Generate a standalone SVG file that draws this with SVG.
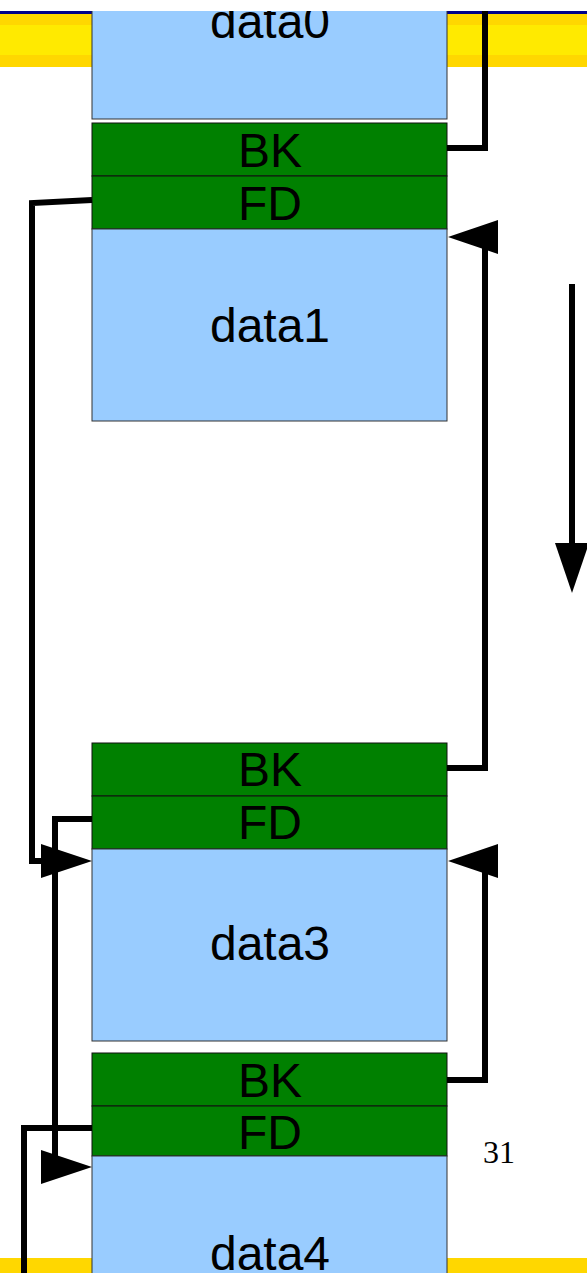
<svg xmlns="http://www.w3.org/2000/svg" width="587" height="1273" viewBox="0 0 587 1273">
  <style>
    .data { fill: #99CCFF; stroke: #333; stroke-width: 1; }
    .hdr { fill: #008000; stroke: #111; stroke-width: 1; }
    .lbl { font-family: "Liberation Sans", Arial, sans-serif; font-size: 48px; fill: #000; text-anchor: middle; }
    .wire { fill: none; stroke: #000; stroke-width: 6; stroke-linejoin: miter; }
    .head { fill: #000; }
  </style>
  <defs>
    <clipPath id="page">
      <rect x="0" y="11" width="587" height="1262"/>
    </clipPath>
  </defs>
  <rect width="587" height="1273" fill="#fff"/>
  <g clip-path="url(#page)">
    <!-- slide bands -->
    <g id="bands">
      <rect x="0" y="11" width="587" height="3" fill="#00008B"/>
      <rect x="0" y="14" width="587" height="53" fill="#FFD700"/>
      <rect x="0" y="25" width="587" height="30" fill="#FFEA00"/>
      <rect x="0" y="1258" width="587" height="15" fill="#FFD700"/>
    </g>

    <!-- chunk 0 -->
    <g id="chunk0">
      <rect class="data" x="92" y="0" width="355" height="119"/>
      <text class="lbl" x="270" y="38">data0</text>
    </g>

    <!-- chunk 1 -->
    <g id="chunk1">
      <rect class="hdr" x="92" y="123" width="355" height="53"/>
      <text class="lbl" x="270" y="167">BK</text>
      <rect class="hdr" x="92" y="176" width="355" height="53"/>
      <text class="lbl" x="270" y="220">FD</text>
      <rect class="data" x="92" y="229" width="355" height="192"/>
      <text class="lbl" x="270" y="342">data1</text>
    </g>

    <!-- chunk 3 -->
    <g id="chunk3">
      <rect class="hdr" x="92" y="743" width="355" height="53"/>
      <text class="lbl" x="270" y="786">BK</text>
      <rect class="hdr" x="92" y="796" width="355" height="53"/>
      <text class="lbl" x="270" y="839">FD</text>
      <rect class="data" x="92" y="849" width="355" height="192"/>
      <text class="lbl" x="270" y="960">data3</text>
    </g>

    <!-- chunk 4 -->
    <g id="chunk4">
      <rect class="hdr" x="92" y="1053" width="355" height="53"/>
      <text class="lbl" x="270" y="1097">BK</text>
      <rect class="hdr" x="92" y="1106" width="355" height="50"/>
      <text class="lbl" x="270" y="1149">FD</text>
      <rect class="data" x="92" y="1156" width="355" height="130"/>
      <text class="lbl" x="270" y="1270">data4</text>
    </g>

    <!-- page number -->
    <g id="pagenum">
      <text x="483" y="1163" font-family="Liberation Serif, 'Times New Roman', serif" font-size="32" fill="#000">31</text>
    </g>

    <!-- pointers -->
    <g id="connectors">
      <path class="wire" d="M447,148 H485 V0"/>
      <path class="wire" d="M92,200 L32,203 V861 H45"/>
      <path class="wire" d="M92,819 H55 V1160"/>
      <path class="wire" d="M92,1128 H24 V1280"/>
      <path class="wire" d="M447,768 H485 V245"/>
      <path class="wire" d="M447,1080 H485 V870"/>
      <path class="wire" d="M572,284 V548"/>
      <polygon class="head" points="448,237 498,220 498,254"/>
      <polygon class="head" points="92,861 41,844 41,878"/>
      <polygon class="head" points="448,861 498,844 498,878"/>
      <polygon class="head" points="92,1167 41,1150 41,1184"/>
      <polygon class="head" points="572,593 555,543 589,543"/>
    </g>
  </g>
</svg>
